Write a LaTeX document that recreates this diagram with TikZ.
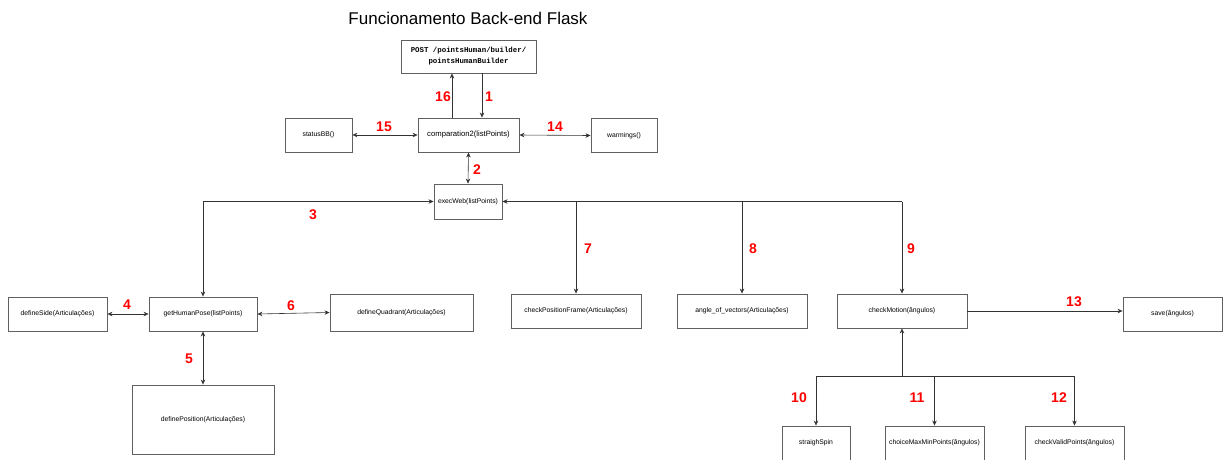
\documentclass[tikz,border=0pt]{standalone}
\usepackage{fontspec}
\setmainfont{Liberation Sans}
\setmonofont{Liberation Mono}
\usepackage{tikz}
\usetikzlibrary{arrows.meta, positioning, calc}
\tikzset{
  fnbox/.style={rectangle, draw=gray!75!black, line width=0.9pt, fill=white,
                inner sep=0pt, minimum width=#1, minimum height=34pt,
                font=\fontsize{6.8}{8}\selectfont, align=center},
  fnbox/.default=100pt,
  num/.style={text=red, font=\bfseries\fontsize{14}{14}\selectfont, inner sep=0pt},
  arc/.style={-{Stealth[length=5pt, width=4.5pt]}, line width=0.6pt, draw=black!80},
  dbl/.style={{Stealth[length=5pt, width=4.5pt]}-{Stealth[length=5pt, width=4.5pt]},
              line width=0.6pt, draw=black!80},
  wire/.style={line width=0.6pt, draw=black!80}
}
\begin{document}
\begin{tikzpicture}[x=1pt, y=-1pt]
  \fill[white] (0,0) rectangle (1224,459);
  \useasboundingbox (0,0) rectangle (1224,459);
  % title
  \node[font=\fontsize{17}{20}\selectfont] (title) at (468,18) {Funcionamento Back-end Flask};
  % top part
  \node[fnbox=135pt, minimum height=33pt, font=\ttfamily\bfseries\fontsize{7.4}{11}\selectfont]
    (post) at (468.5,56.5) {POST /pointsHuman/builder/\\pointsHumanBuilder};
  \node[fnbox=101pt, font=\fontsize{7.7}{9}\selectfont] (comp) at (468.5,135) {comparation2(listPoints)};
  \node[fnbox=67pt] (status) at (318.5,135) {statusBB()};
  \node[fnbox=66pt] (warn) at (624,135.5) {warmings()};
  \node[fnbox=68pt, minimum height=35pt] (exec) at (468,201.5) {execWeb(listPoints)};
  % left branch
  \node[fnbox=108pt] (pose) at (203,314) {getHumanPose(listPoints)};
  \node[fnbox=99pt] (side) at (57.5,314) {defineSide(Articulações)};
  \node[fnbox=143pt, minimum height=37pt] (quad) at (401.5,312.5) {defineQuadrant(Articulações)};
  \node[fnbox=142pt, minimum height=69pt] (posi) at (203,419.5) {definePosition(Articulações)};
  % right branch
  \node[fnbox=130pt] (frame) at (576,311) {checkPositionFrame(Articulações)};
  \node[fnbox=130pt] (angle) at (742,311) {angle\_of\_vectors(Articulações)};
  \node[fnbox=130pt] (motion) at (902,311) {checkMotion(ângulos)};
  \node[fnbox=99pt] (save) at (1172.5,314) {save(ângulos)};
  \node[fnbox=68pt] (spin) at (816,443) {straighSpin};
  \node[fnbox=99pt] (choice) at (934.5,443) {choiceMaxMinPoints(ângulos)};
  \node[fnbox=99pt] (valid) at (1074.5,443) {checkValidPoints(ângulos)};

  % connectors
  \draw[arc] ([xshift=13.5pt]post.south) -- ([xshift=13.5pt]comp.north);
  \draw[arc] ([xshift=-16.5pt]comp.north) -- ([xshift=-16.5pt]post.south);
  \draw[dbl] (status.east) -- (comp.west);
  \draw[dbl] (comp.east) -- (warn.west);
  \draw[dbl] (comp.south) -- (exec.north);
  \draw[dbl] (exec.west) -| (pose.north);
  \draw[dbl] (side.east) -- (pose.west);
  \draw[dbl] (pose.east) -- (quad.west);
  \draw[dbl] (pose.south) -- (posi.north);
  \draw[arc] (motion.north |- exec.east) -- (exec.east);
  \foreach \n in {frame, angle, motion}
    \draw[arc] (\n.north |- exec.east) -- (\n.north);
  \draw[arc] (motion.east) -- (save.west |- motion.east);
  \coordinate (jn) at ($(motion.south)+(0,48)$);
  \draw[arc] (jn) -- (motion.south);
  \draw[wire] (spin.north |- jn) -- (valid.north |- jn);
  \foreach \n in {spin, choice, valid}
    \draw[arc] (\n.north |- jn) -- (\n.north);

  % step numbers
  \node[num] (n1) at (489,97) {1};
  \node[num] (n2) at (477,170) {2};
  \node[num] (n3) at (313,215) {3};
  \node[num] (n4) at (127,305) {4};
  \node[num] (n5) at (189,359) {5};
  \node[num] (n6) at (291,306) {6};
  \node[num] (n7) at (588,249) {7};
  \node[num] (n8) at (753,249) {8};
  \node[num] (n9) at (911,249) {9};
  \node[num] (n10) at (799,398) {10};
  \node[num] (n11) at (917,398) {11};
  \node[num] (n12) at (1059,398) {12};
  \node[num] (n13) at (1074,302) {13};
  \node[num] (n14) at (555,127) {14};
  \node[num] (n15) at (384,127) {15};
  \node[num] (n16) at (443,97) {16};
\end{tikzpicture}
\end{document}
